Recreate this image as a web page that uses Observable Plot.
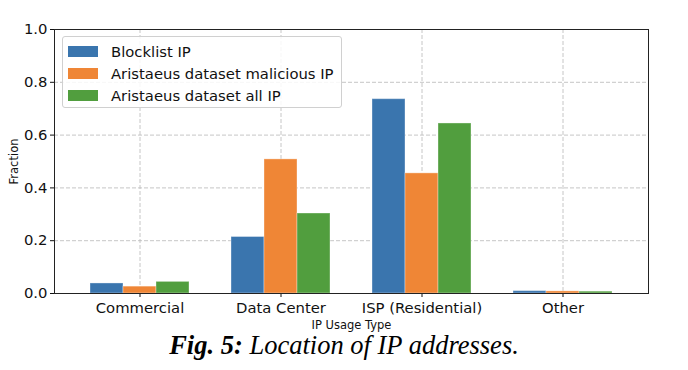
<!DOCTYPE html>
<html><head><meta charset="utf-8">
<script src="https://cdn.jsdelivr.net/npm/d3@7"></script>
<script src="https://cdn.jsdelivr.net/npm/@observablehq/plot@0.6"></script>
<style>
body{margin:0;background:#fff;}
#wrap{position:relative;width:688px;height:370px;font-family:"DejaVu Sans",sans-serif;}
#legend{position:absolute;left:62px;top:36px;width:280px;height:72px;border:1px solid #d0d0d0;border-radius:3px;background:rgba(255,255,255,0.85);box-sizing:border-box;}
.row{position:absolute;left:5px;height:22px;display:flex;align-items:center;font-size:14.8px;color:#111;white-space:nowrap;}
.sw{width:30px;height:11px;margin-right:13px;}
#caption{position:absolute;left:0;width:688px;top:330px;text-align:center;font-family:"Liberation Serif","Times New Roman",serif;font-style:italic;font-size:26.5px;line-height:30px;color:#000;}
g[aria-label="y-axis label"] text, g[aria-label="x-axis label"] text{font-size:11.5px;}
</style></head>
<body><div id="wrap"><div id="chart"></div><div id="legend"></div>
<div id="caption"><b>Fig. 5:</b> Location of IP addresses.</div></div>
<script>
const categories = ["Commercial", "Data Center", "ISP (Residential)", "Other"];
const seriesNames = ["Blocklist IP", "Aristaeus dataset malicious IP", "Aristaeus dataset all IP"];
const blocklist = [0.038, 0.214, 0.736, 0.009];
const aristaeusMalicious = [0.026, 0.508, 0.455, 0.008];
const aristaeusAll = [0.044, 0.303, 0.644, 0.007];
const colors = ["#3a75ae", "#ef8636", "#519e3e"];
const yTicks = [0, 0.2, 0.4, 0.6, 0.8, 1.0];

const seriesValues = [blocklist, aristaeusMalicious, aristaeusAll];
const data = [];
seriesValues.forEach((vals, s) => vals.forEach((v, i) => data.push({cat: categories[i], series: seriesNames[s], value: v})));

const barW = 33;
const barMarks = seriesNames.map((name, s) => Plot.barY(data.filter(d => d.series === name), {
  x: "cat", y: "value", fill: colors[s],
  stroke: "#ffffff", strokeOpacity: 0.35, strokeWidth: 1,
  insetLeft: s * barW, insetRight: (2 - s) * barW
}));

const chart = Plot.plot({
  width: 688, height: 335,
  marginLeft: 54, marginRight: 40, marginTop: 29, marginBottom: 42,
  style: {fontFamily: "DejaVu Sans", fontSize: "14.8px", color: "#111", background: "transparent"},
  x: {domain: categories, paddingInner: 0.3, paddingOuter: 0.25, align: 0.5},
  y: {domain: [0, 1]},
  marks: [
    Plot.gridY(yTicks, {stroke: "#b8b8b8", strokeOpacity: 1, strokeDasharray: "4 2", strokeWidth: 0.8}),
    Plot.gridX(categories, {stroke: "#b8b8b8", strokeOpacity: 1, strokeDasharray: "4 2", strokeWidth: 0.8}),
    ...barMarks,
    Plot.axisY(yTicks, {tickFormat: d3.format(".1f"), tickSize: 4, tickPadding: 3, label: "Fraction", labelAnchor: "center", labelArrow: "none", labelOffset: 45}),
    Plot.axisX(categories, {tickSize: 4, tickPadding: 5, label: "IP Usage Type", labelAnchor: "center", labelArrow: "none", labelOffset: 35}),
    Plot.frame({stroke: "#222", strokeWidth: 1})
  ]
});
document.getElementById("chart").appendChild(chart);

const legend = document.getElementById("legend");
seriesNames.forEach((name, s) => {
  const row = document.createElement("div");
  row.className = "row";
  row.style.top = (3 + s * 22) + "px";
  row.innerHTML = `<div class="sw" style="background:${colors[s]}"></div><span>${name}</span>`;
  legend.appendChild(row);
});
</script></body></html>
